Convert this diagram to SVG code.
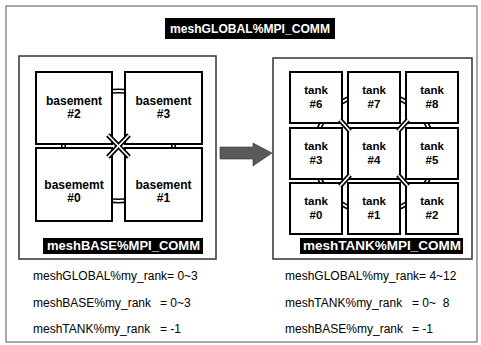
<svg xmlns="http://www.w3.org/2000/svg" width="481" height="345" viewBox="0 0 481 345">
<defs>
<style>
text{font-family:"Liberation Sans",Arial,Helvetica,sans-serif;}
.frame{fill:#fff;stroke:#333;stroke-width:1.5;}
.node{fill:#fff;stroke:#000;stroke-width:2;}
.nt{font-size:12px;font-weight:bold;fill:#000;text-anchor:middle;}
.tt{font-size:11.5px;font-weight:bold;fill:#000;text-anchor:middle;}
.lbl{fill:#000;}
.lt{font-size:13px;font-weight:bold;fill:#fff;}
.info{font-size:12px;fill:#000;}
.dbl{fill:none;stroke:#000;stroke-width:5;}
.dblw{fill:none;stroke:#fff;stroke-width:1.8;}
</style>
</defs>
<rect width="481" height="345" fill="#fff"/>
<rect x="6" y="6" width="471" height="336" fill="none" stroke="#555" stroke-width="1"/>

<g id="global-label">
<rect class="lbl" x="165" y="18" width="170" height="21"/>
<text class="lt" x="170" y="33" textLength="160" lengthAdjust="spacingAndGlyphs">meshGLOBAL%MPI_COMM</text>
</g>

<g id="base-group">
<rect class="frame" x="19" y="56" width="197" height="203"/>
</g>
<g id="tank-group">
<rect class="frame" x="273" y="58" width="199" height="201"/>
</g>

<g id="connectors">
<circle class="dbl" cx="118.5" cy="146" r="55"/>
<circle class="dblw" cx="118.5" cy="146" r="55"/>
<circle class="dbl" cx="374" cy="153" r="60"/>
<circle class="dblw" cx="374" cy="153" r="60"/>
</g>

<g id="basement2"><rect class="node" x="36" y="72" width="76" height="72"/><text class="nt" x="74" y="105">basement</text><text class="nt" x="74" y="118">#2</text></g>
<g id="basement3"><rect class="node" x="125" y="72" width="77" height="72"/><text class="nt" x="163.5" y="105">basement</text><text class="nt" x="163.5" y="118">#3</text></g>
<g id="basement0"><rect class="node" x="36" y="148" width="76" height="73"/><text class="nt" x="74" y="189">basememt</text><text class="nt" x="74" y="202">#0</text></g>
<g id="basement1"><rect class="node" x="125" y="148" width="77" height="73"/><text class="nt" x="163.5" y="189">basement</text><text class="nt" x="163.5" y="202">#1</text></g>

<g id="tank6"><rect class="node" x="290" y="72" width="52" height="51"/><text class="tt" x="316" y="93.5">tank</text><text class="tt" x="316" y="107.5">#6</text></g>
<g id="tank7"><rect class="node" x="348" y="72" width="52" height="51"/><text class="tt" x="374" y="93.5">tank</text><text class="tt" x="374" y="107.5">#7</text></g>
<g id="tank8"><rect class="node" x="406" y="72" width="52" height="51"/><text class="tt" x="432" y="93.5">tank</text><text class="tt" x="432" y="107.5">#8</text></g>
<g id="tank3"><rect class="node" x="290" y="128" width="52" height="51"/><text class="tt" x="316" y="149.5">tank</text><text class="tt" x="316" y="163.5">#3</text></g>
<g id="tank4"><rect class="node" x="348" y="128" width="52" height="51"/><text class="tt" x="374" y="149.5">tank</text><text class="tt" x="374" y="163.5">#4</text></g>
<g id="tank5"><rect class="node" x="406" y="128" width="52" height="51"/><text class="tt" x="432" y="149.5">tank</text><text class="tt" x="432" y="163.5">#5</text></g>
<g id="tank0"><rect class="node" x="290" y="183" width="52" height="51"/><text class="tt" x="316" y="204.5">tank</text><text class="tt" x="316" y="218.5">#0</text></g>
<g id="tank1"><rect class="node" x="348" y="183" width="52" height="51"/><text class="tt" x="374" y="204.5">tank</text><text class="tt" x="374" y="218.5">#1</text></g>
<g id="tank2"><rect class="node" x="406" y="183" width="52" height="51"/><text class="tt" x="432" y="204.5">tank</text><text class="tt" x="432" y="218.5">#2</text></g>

<g id="cross-connectors">
<path class="dbl" d="M108,135 L129,157 M129,135 L108,157"/>
<path class="dblw" d="M108,135 L129,157 M129,135 L108,157"/>
<path class="dbl" d="M340,120 L350,131 M408,120 L398,131 M340,186 L350,175 M408,186 L398,175"/>
<path class="dblw" d="M340,120 L350,131 M408,120 L398,131 M340,186 L350,175 M408,186 L398,175"/>
</g>

<g id="arrow">
<path d="M220,147 H253 V143 L272,153 L253,166 V159 H220 Z" fill="#5a5a5a" stroke="#333" stroke-width="0.6"/>
</g>

<g id="base-label">
<rect class="lbl" x="43" y="238" width="160" height="16"/>
<text class="lt" x="47" y="250" textLength="153" lengthAdjust="spacingAndGlyphs">meshBASE%MPI_COMM</text>
</g>
<g id="tank-label">
<rect class="lbl" x="300" y="238" width="163" height="16"/>
<text class="lt" x="303" y="250" textLength="158" lengthAdjust="spacingAndGlyphs">meshTANK%MPI_COMM</text>
</g>

<g id="info-left">
<text class="info" x="33" y="280">meshGLOBAL%my_rank= 0~3</text>
<text class="info" x="33" y="307">meshBASE%my_rank</text>
<text class="info" x="160" y="307">= 0~3</text>
<text class="info" x="33" y="333">meshTANK%my_rank</text>
<text class="info" x="160" y="333">= -1</text>
</g>
<g id="info-right">
<text class="info" x="285" y="280">meshGLOBAL%my_rank= 4~12</text>
<text class="info" x="285" y="307">meshTANK%my_rank</text>
<text class="info" x="412" y="307" xml:space="preserve">= 0~  8</text>
<text class="info" x="285" y="333">meshBASE%my_rank</text>
<text class="info" x="412" y="333">= -1</text>
</g>
</svg>
